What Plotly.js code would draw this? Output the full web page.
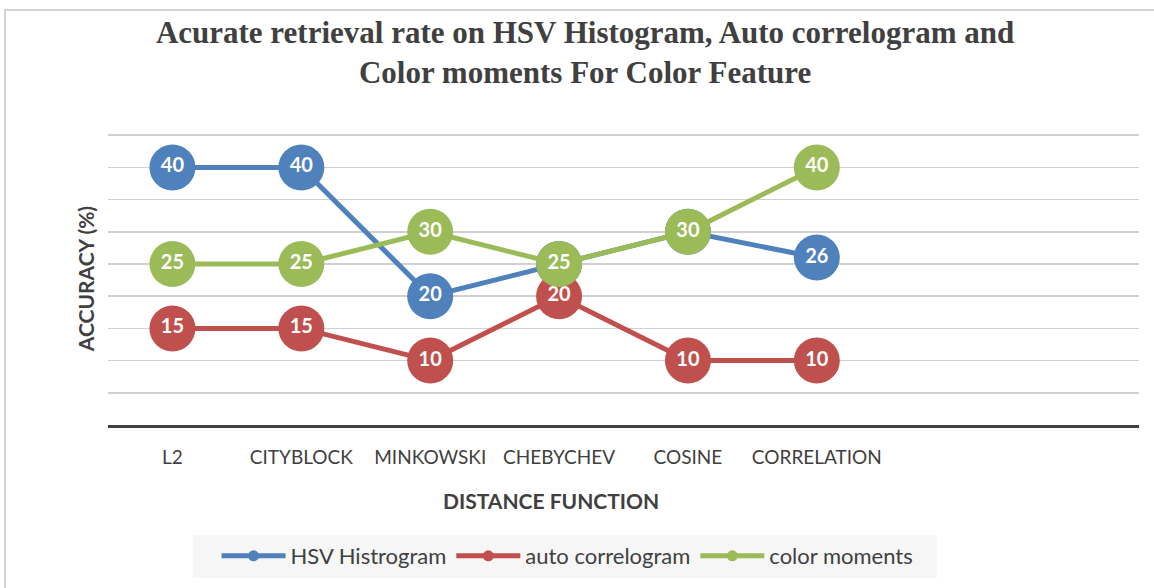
<!DOCTYPE html>
<html>
<head>
<meta charset="utf-8">
<script src="https://cdn.plot.ly/plotly-3.0.1.min.js"></script>
<style>
  html, body { margin: 0; padding: 0; background: #fff; }
  #wrap { position: relative; width: 1154px; height: 588px; overflow: hidden; }
  #chart { position: absolute; left: 0; top: 0; width: 1154px; height: 588px; }
  #frame { position: absolute; left: 4px; top: 9px; width: 1160px; height: 600px;
           border-left: 2px solid #d4d4d4; border-top: 2px solid #d4d4d4; pointer-events: none; }
</style>
</head>
<body>
<div id="wrap">
  <div id="chart"></div>
  <div id="frame"></div>
</div>
<script>
// Data
const categories = ["L2", "CITYBLOCK", "MINKOWSKI", "CHEBYCHEV", "COSINE", "CORRELATION"];
const hsvHistogram = [40, 40, 20, 25, 30, 26];
const autoCorrelogram = [15, 15, 10, 20, 10, 10];
const colorMoments = [25, 25, 30, 25, 30, 40];
const seriesNames = ["HSV Histrogram", "auto correlogram", "color moments"];
const seriesColors = ["#4F81BD", "#C0504D", "#9BBB59"];

const xIdx = categories.map((c, i) => i);
const allSeries = [hsvHistogram, autoCorrelogram, colorMoments];

const traces = [];
allSeries.forEach((vals, k) => {
  traces.push({
    type: "scatter",
    mode: "lines+markers+text",
    x: xIdx,
    y: vals,
    text: vals.map(v => String(v)),
    textposition: "middle center",
    textfont: { family: "Lato", size: 20, color: "#ffffff", weight: "bold" },
    line: { color: seriesColors[k], width: 5 },
    marker: { color: seriesColors[k], size: 46 },
    showlegend: false,
    hoverinfo: "skip",
    cliponaxis: false
  });
});
// legend-only entries with small symbols
allSeries.forEach((vals, k) => {
  traces.push({
    type: "scatter",
    mode: "lines+markers",
    x: [null],
    y: [null],
    name: seriesNames[k],
    line: { color: seriesColors[k], width: 5 },
    marker: { color: seriesColors[k], size: 11 },
    showlegend: true
  });
});

const T = 132, B = 163, H = 588, L = 108, R = 15, W = 1154;
const plotH = H - T - B, plotW = W - L - R, axisY = H - B;
const px2x = px => (px - L) / plotW;
const px2y = py => (axisY - py) / plotH;

const layout = {
  width: W,
  height: H,
  paper_bgcolor: "#ffffff",
  plot_bgcolor: "#ffffff",
  margin: { l: L, r: R, t: T, b: B },
  title: {
    text: "Acurate retrieval rate on HSV Histogram, Auto correlogram and<br>Color moments For Color Feature",
    font: { family: "Liberation Serif", size: 31, color: "#404040", weight: "bold" },
    xref: "container",
    x: 0.507,
    xanchor: "center",
    yref: "container",
    y: 0.927,
    yanchor: "top"
  },
  xaxis: {
    range: [-0.5, 7.5],
    tickvals: xIdx,
    ticktext: categories,
    tickfont: { family: "Lato", size: 19, color: "#404040" },
    ticks: "",
    ticklabelstandoff: 13,
    showgrid: false,
    zeroline: false,
    showline: true,
    linecolor: "#404040",
    linewidth: 3,
    fixedrange: true
  },
  yaxis: {
    range: [0, 45.5],
    dtick: 5,
    tick0: 0,
    showticklabels: false,
    ticks: "",
    showgrid: true,
    gridcolor: "#d0d0d0",
    gridwidth: 1.5,
    zeroline: false,
    showline: false,
    fixedrange: true,
    title: {
      text: "ACCURACY (%)",
      font: { family: "Lato", size: 21, color: "#404040", weight: "bold" },
      standoff: 6
    }
  },
  shapes: [{
    type: "rect",
    xref: "paper",
    yref: "paper",
    x0: px2x(193), x1: px2x(937),
    y0: px2y(535), y1: px2y(578),
    fillcolor: "#f6f6f6",
    line: { width: 0 },
    layer: "below"
  }],
  annotations: [{
    text: "DISTANCE FUNCTION",
    xref: "paper",
    yref: "paper",
    x: px2x(551),
    y: px2y(500),
    xanchor: "center",
    yanchor: "middle",
    showarrow: false,
    font: { family: "Lato", size: 21, color: "#404040", weight: "bold" }
  }],
  showlegend: true,
  legend: {
    orientation: "h",
    xref: "container",
    yref: "container",
    x: 0.4918,
    xanchor: "center",
    y: 1 - 556 / H,
    yanchor: "middle",
    bgcolor: "rgba(0,0,0,0)",
    borderwidth: 0,
    itemwidth: 64,
    font: { family: "Lato", size: 22, color: "#404040" },
    traceorder: "normal"
  }
};

Plotly.newPlot("chart", traces, layout, { displayModeBar: false, staticPlot: true });
</script>
</body>
</html>
